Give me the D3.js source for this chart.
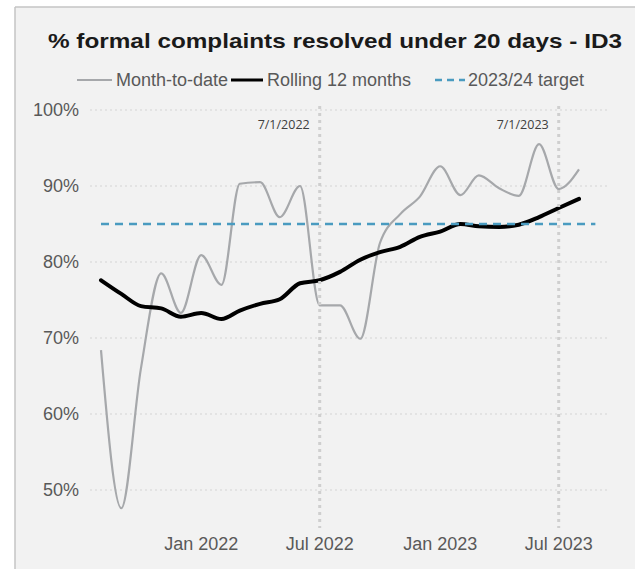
<!DOCTYPE html>
<html><head><meta charset="utf-8">
<script src="https://cdn.jsdelivr.net/npm/d3@7"></script>
<style>html,body{margin:0;padding:0;background:#fff;}svg{display:block;}</style>
</head><body>
<svg id="chart" width="635" height="569"></svg>
<script>
// ---- data ----
const months = ["2021-08","2021-09","2021-10","2021-11","2021-12","2022-01","2022-02","2022-03","2022-04","2022-05","2022-06","2022-07","2022-08","2022-09","2022-10","2022-11","2022-12","2023-01","2023-02","2023-03","2023-04","2023-05","2023-06","2023-07","2023-08"];
const monthToDate = [68.4,47.6,66.0,78.5,73.3,80.9,77.0,90.3,90.5,85.9,90.0,74.3,74.3,69.9,82.5,86.3,88.6,92.6,88.8,91.4,89.7,88.7,95.5,89.6,92.2];
const rolling12 = [77.6,75.8,74.2,73.9,72.8,73.3,72.5,73.6,74.5,75.1,77.2,77.6,78.7,80.3,81.3,82.0,83.3,84.0,85.0,84.7,84.6,84.9,85.9,87.1,88.3];
const targetValue = 85;
const targetSpan = ["2021-08-01","2023-08-26"];
const yTicks = [50,60,70,80,90,100];
const xTickDates = ["2022-01-01","2022-07-01","2023-01-01","2023-07-01"];
const markerDates = ["2022-07-01","2023-07-01"];
const markerLabels = ["7/1/2022","7/1/2023"];
const title = "% formal complaints resolved under 20 days - ID3";
const legendItems = ["Month-to-date","Rolling 12 months","2023/24 target"];

// ---- setup ----
const parse = d3.timeParse("%Y-%m");
const parseD = d3.timeParse("%Y-%m-%d");
const dates = months.map(parse);
const svg = d3.select("#chart");

const x = d3.scaleTime().domain([dates[0], dates[dates.length-1]]).range([101, 579]);
const y = d3.scaleLinear().domain([50,100]).range([490,110]);
const gridX0 = 90, gridX1 = 610;

// panel
svg.append("rect").attr("x",15).attr("y",7).attr("width",640).attr("height",580).attr("fill","#f2f2f2");
svg.append("line").attr("x1",15).attr("x2",15).attr("y1",7).attr("y2",569).attr("stroke","#c4c4c4").attr("stroke-width",1.5);
svg.append("line").attr("x1",15).attr("x2",635).attr("y1",7).attr("y2",7).attr("stroke","#c4c4c4").attr("stroke-width",1.5);

// title
svg.append("text").attr("x",335).attr("y",48).attr("text-anchor","middle")
  .attr("font-family","Liberation Sans, Arial, sans-serif").attr("font-weight","bold")
  .attr("font-size",21).attr("fill","#1a1a1a")
  .attr("textLength",574).attr("lengthAdjust","spacingAndGlyphs").text(title);

// legend
const lg = svg.append("g").attr("font-family","Liberation Sans, Arial, sans-serif").attr("font-size",18).attr("fill","#595959");
const legendDefs = [
  {x1:77,x2:112,tx:116,stroke:"#a6a8ab",w:2,dash:null},
  {x1:231,x2:263,tx:267,stroke:"#000",w:3,dash:null},
  {x1:435,x2:465,tx:468,stroke:"#4a9bc0",w:2.5,dash:"7,5"}
];
legendDefs.forEach((d,i)=>{
  lg.append("line").attr("x1",d.x1).attr("x2",d.x2).attr("y1",80).attr("y2",80)
    .attr("stroke",d.stroke).attr("stroke-width",d.w).attr("stroke-dasharray",d.dash);
  lg.append("text").attr("x",d.tx).attr("y",86).text(legendItems[i]);
});

// gridlines + y labels
const gy = svg.append("g");
yTicks.forEach(t=>{
  gy.append("line").attr("x1",gridX0).attr("x2",gridX1).attr("y1",y(t)).attr("y2",y(t))
    .attr("stroke","#d4d4d4").attr("stroke-width",1).attr("stroke-dasharray","2,3");
  gy.append("text").attr("x",79).attr("y",y(t)).attr("dy","0.35em").attr("text-anchor","end")
    .attr("font-family","Liberation Sans, Arial, sans-serif").attr("font-size",18).attr("fill","#595959")
    .text(t+"%");
});

// x labels
const fmt = d3.timeFormat("%b %Y");
xTickDates.forEach(s=>{
  const d = parseD(s);
  svg.append("text").attr("x",x(d)).attr("y",550).attr("text-anchor","middle")
    .attr("font-family","Liberation Sans, Arial, sans-serif").attr("font-size",18).attr("fill","#595959")
    .text(fmt(d));
});

// lines
const curve = d3.curveMonotoneX;
const lineGen = d3.line().x((d,i)=>x(dates[i])).y(d=>y(d)).curve(curve);
svg.append("path").attr("d",lineGen(monthToDate)).attr("fill","none").attr("stroke","#a6a8ab").attr("stroke-width",2.2).attr("stroke-linejoin","round");
svg.append("path").attr("d",lineGen(rolling12)).attr("fill","none").attr("stroke","#000").attr("stroke-width",4).attr("stroke-linecap","round").attr("stroke-linejoin","round");

// target
svg.append("line").attr("x1",x(parseD(targetSpan[0]))).attr("x2",x(parseD(targetSpan[1])))
  .attr("y1",y(targetValue)).attr("y2",y(targetValue))
  .attr("stroke","#4a9bc0").attr("stroke-width",2.5).attr("stroke-dasharray","8,6");

// markers
markerDates.forEach((s,i)=>{
  const d = parseD(s);
  svg.append("line").attr("x1",x(d)).attr("x2",x(d)).attr("y1",106).attr("y2",528)
    .attr("stroke","#cfcfcf").attr("stroke-width",3).attr("stroke-dasharray","3,4");
  svg.append("text").attr("x",x(d)-10).attr("y",129).attr("text-anchor","end")
    .attr("font-family","Open Sans, sans-serif").attr("font-size",12.5).attr("fill","#404040")
    .text(markerLabels[i]);
});
</script>
</body></html>
